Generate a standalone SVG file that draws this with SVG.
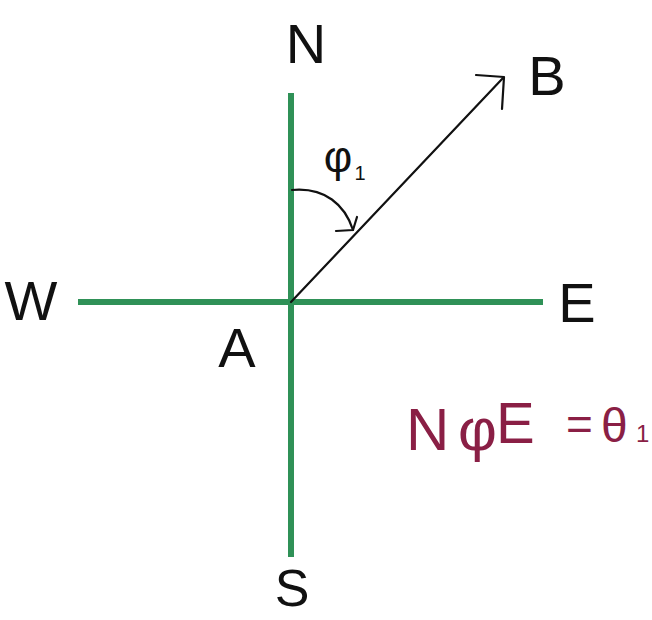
<svg xmlns="http://www.w3.org/2000/svg" width="652" height="620" viewBox="0 0 652 620">
<style>
.axis{stroke:#2f9157;stroke-width:6;stroke-linecap:butt;fill:none}
.ink{stroke:#111;stroke-width:2.2;fill:none;stroke-linecap:round;stroke-linejoin:round}
.lbl{font-family:"Liberation Sans","DejaVu Sans",sans-serif;font-size:56px;fill:#111;text-anchor:middle}
.math{font-family:"Liberation Sans","DejaVu Sans",sans-serif;fill:#8a1f45}
</style>
<rect width="652" height="620" fill="#fff"/>
<g id="axes">
<line class="axis" x1="291" y1="93" x2="291" y2="557"/>
<line class="axis" x1="78" y1="302" x2="543" y2="302"/>
</g>
<g id="connectors">
<path id="AB" class="ink" d="M291 302 L503 78"/>
<path class="ink" d="M476 75 L504 77 L502 109"/>
<path id="angle" class="ink" d="M292 190 C325 187 345 205 353 230"/>
<path class="ink" d="M336 231 L353 230 L357 217"/>
</g>
<g id="N"><text class="lbl" x="306" y="63">N</text></g>
<g id="S"><text class="lbl" x="292" y="606" style="font-size:52px">S</text></g>
<g id="W"><text class="lbl" x="31" y="320">W</text></g>
<g id="E"><text class="lbl" x="577" y="322">E</text></g>
<g id="A"><text class="lbl" x="237" y="367">A</text></g>
<g id="B"><text class="lbl" x="547" y="95">B</text></g>
<g id="phi1"><text class="lbl" x="338" y="172" style="font-size:44px">φ</text><text class="lbl" x="360" y="180" style="font-size:20px">1</text></g>
<g id="formula"><text class="math" y="450" font-size="60"><tspan x="406">N</tspan><tspan x="458">φ</tspan><tspan x="496" y="443" font-size="58">E</tspan><tspan x="566" y="440" font-size="46">=</tspan><tspan x="601" y="442" font-size="48">θ</tspan><tspan x="636" y="442" font-size="24">1</tspan></text></g>
</svg>
